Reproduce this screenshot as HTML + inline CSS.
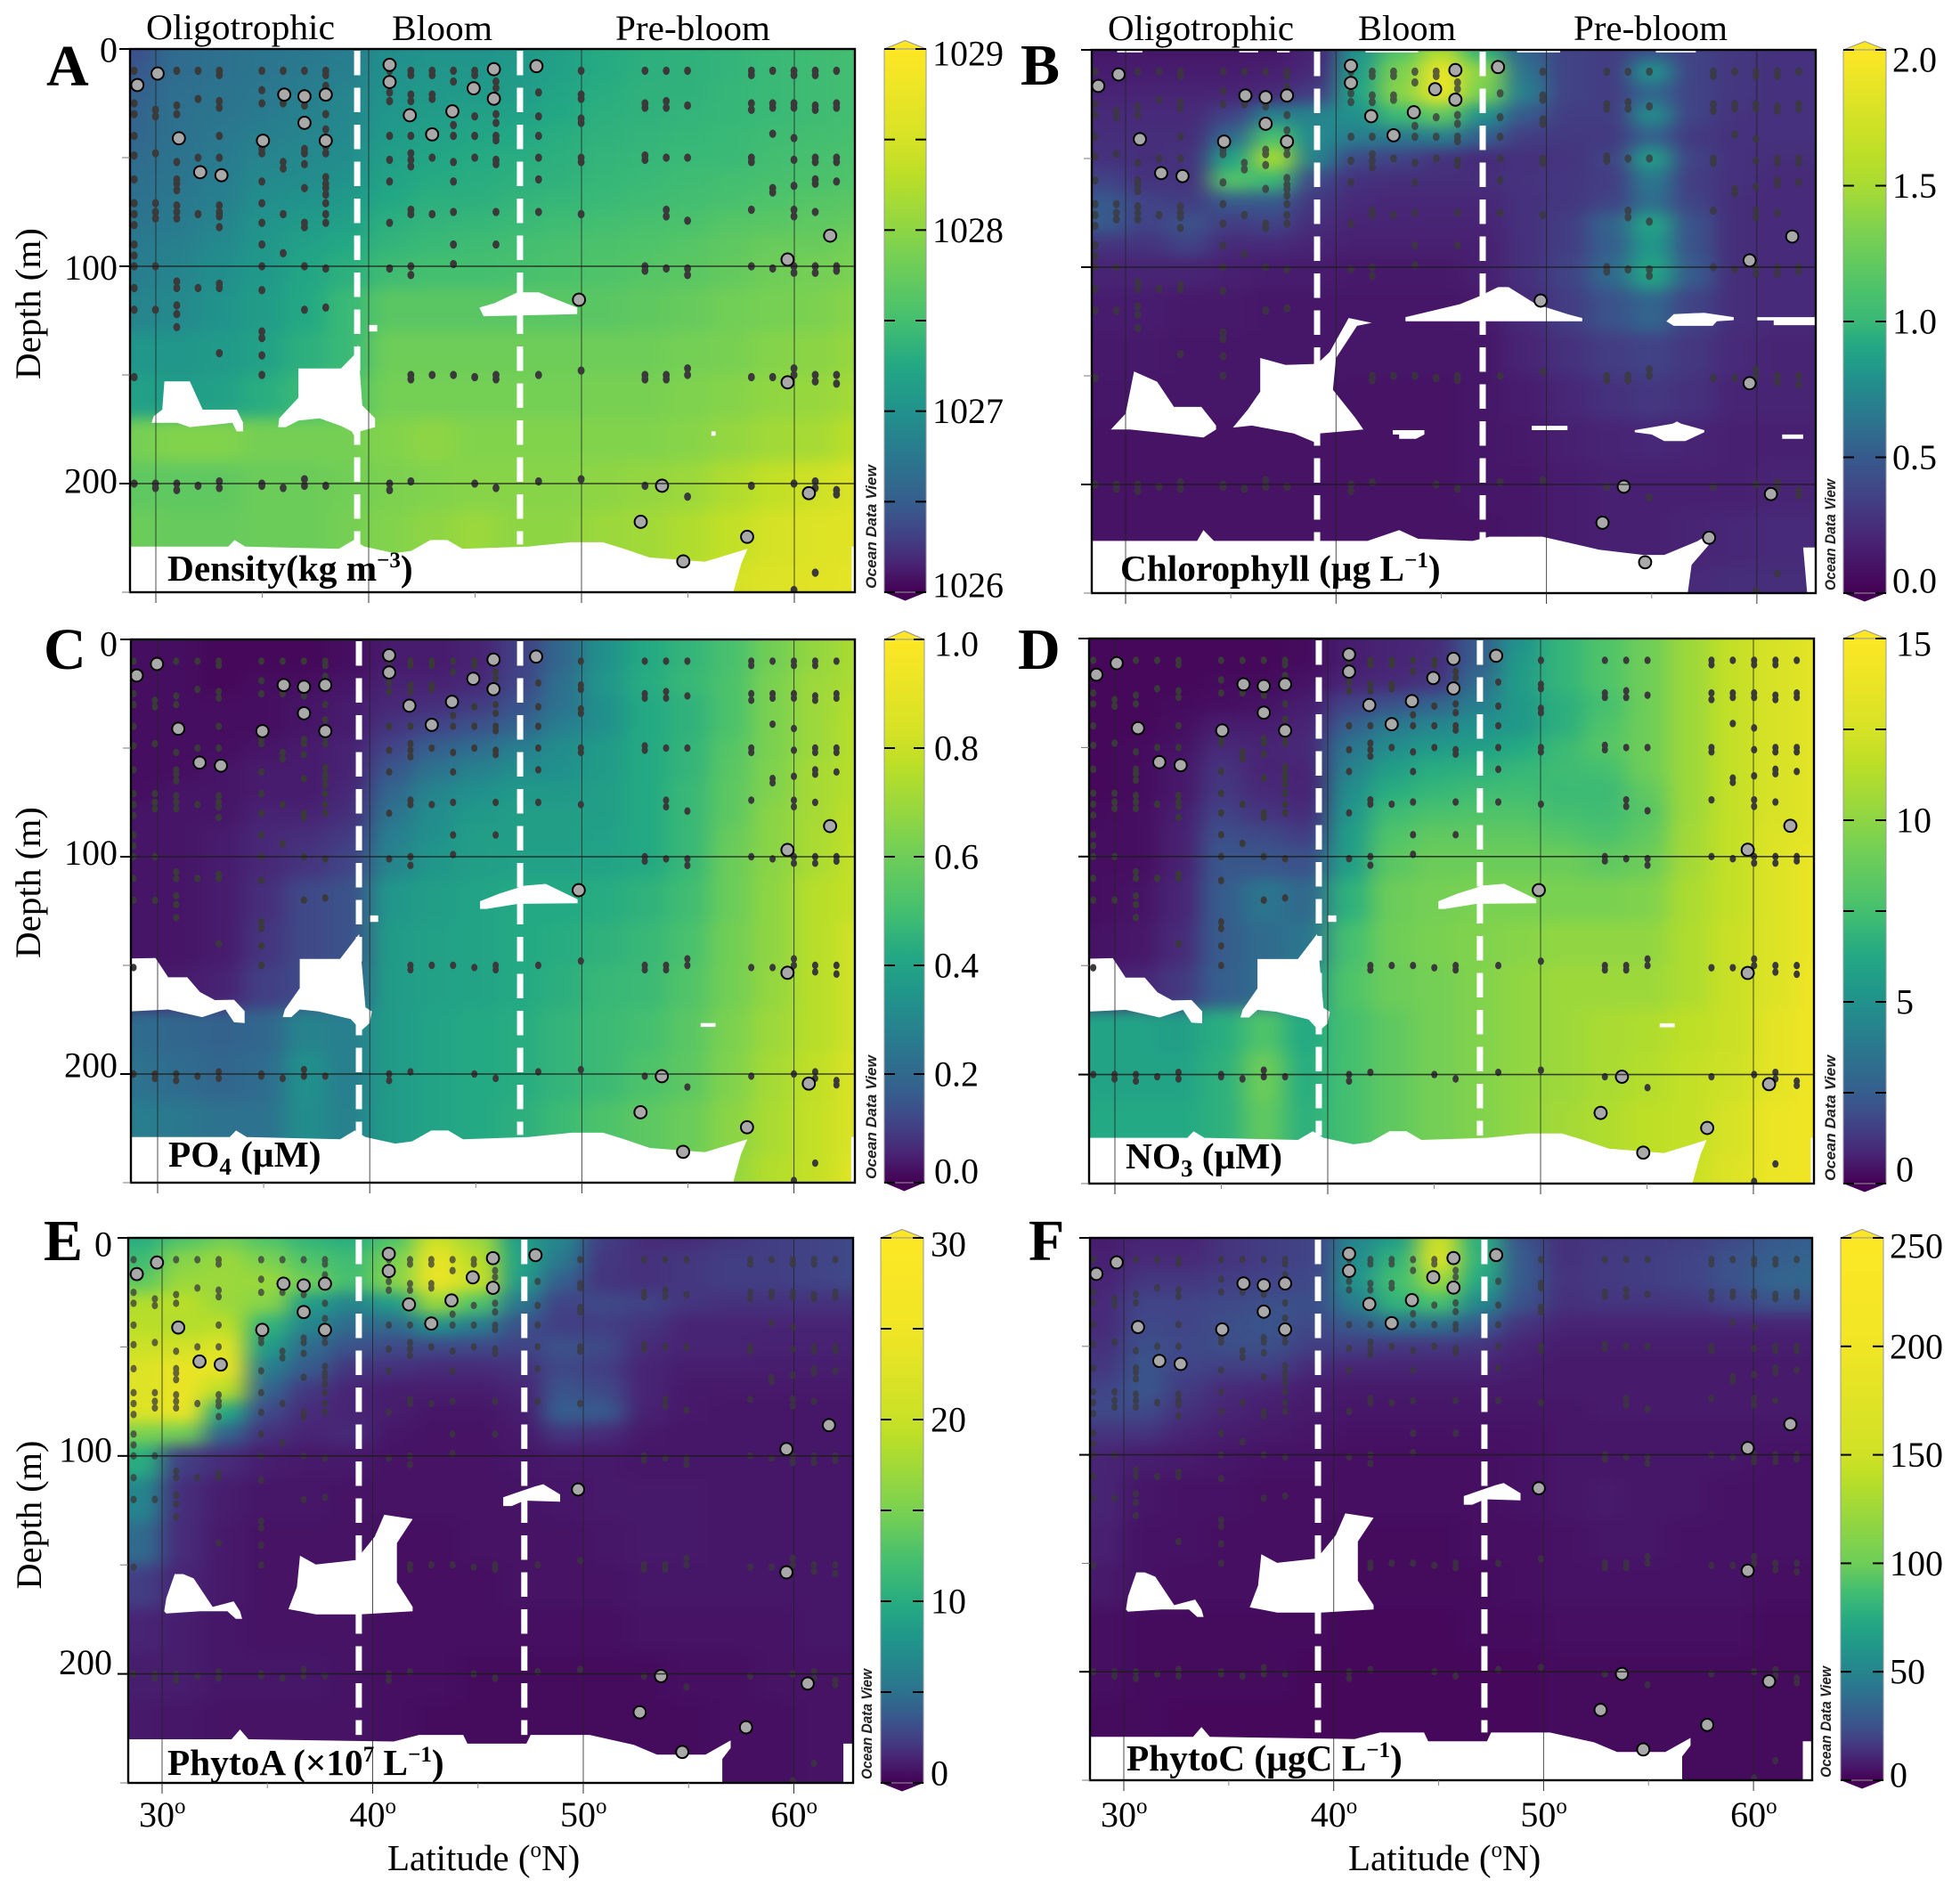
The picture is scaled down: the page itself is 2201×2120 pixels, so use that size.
<!DOCTYPE html>
<html lang="en">
<head>
<meta charset="utf-8">
<title>Ocean transect sections</title>
<style>
html,body{margin:0;padding:0;background:#fff;}
svg{display:block;}
text{font-family:"Liberation Serif",serif;fill:#000;}
.tl{font-size:40px;}
.axt{font-size:41px;}
.ttl{font-size:41.3px;font-weight:bold;}
.ltr{font-size:66px;font-weight:bold;}
.odv{font-family:"Liberation Sans",sans-serif;font-size:17px;font-weight:bold;font-style:italic;fill:#222;}
</style>
</head>
<body>
<svg id="chart" xmlns="http://www.w3.org/2000/svg" width="2201" height="2120" viewBox="0 0 2201 2120">
<defs>
<filter id="smooth" filterUnits="userSpaceOnUse" x="0" y="0" width="2201" height="2120" color-interpolation-filters="sRGB"><feGaussianBlur stdDeviation="13 8"/></filter>
</defs>

<g id="panel-a"></g>
<g id="panel-b"></g>
<g id="panel-c"></g>
<g id="panel-d"></g>
<g id="panel-e"></g>
<g id="panel-f"></g>

<text class="ltr" x="52" y="96">A</text>
<text class="ltr" x="1146" y="95">B</text>
<text class="ltr" x="49" y="751">C</text>
<text class="ltr" x="1143" y="751">D</text>
<text class="ltr" x="49" y="1415">E</text>
<text class="ltr" x="1155" y="1415">F</text>

<text class="tl" x="164" y="44" textLength="212" lengthAdjust="spacingAndGlyphs">Oligotrophic</text>
<text class="tl" x="440" y="45" textLength="113" lengthAdjust="spacingAndGlyphs">Bloom</text>
<text class="tl" x="691" y="45" textLength="174" lengthAdjust="spacingAndGlyphs">Pre-bloom</text>
<text class="tl" x="1244" y="45" textLength="209" lengthAdjust="spacingAndGlyphs">Oligotrophic</text>
<text class="tl" x="1525" y="45" textLength="110" lengthAdjust="spacingAndGlyphs">Bloom</text>
<text class="tl" x="1767" y="45" textLength="173" lengthAdjust="spacingAndGlyphs">Pre-bloom</text>

<text class="tl" transform="translate(45,341) rotate(-90)" text-anchor="middle" textLength="170" lengthAdjust="spacingAndGlyphs">Depth (m)</text>
<text class="tl" transform="translate(45,991) rotate(-90)" text-anchor="middle" textLength="170" lengthAdjust="spacingAndGlyphs">Depth (m)</text>
<text class="tl" transform="translate(46,1701) rotate(-90)" text-anchor="middle" textLength="167" lengthAdjust="spacingAndGlyphs">Depth (m)</text>

<text class="axt" x="435" y="2100">Latitude (<tspan font-size="25" dy="-15">o</tspan><tspan dy="15">N)</tspan></text>
<text class="axt" x="1514" y="2100">Latitude (<tspan font-size="25" dy="-15">o</tspan><tspan dy="15">N)</tspan></text>

<text class="ttl" x="188" y="652">Density(kg m<tspan font-size="25" dy="-15">−3</tspan><tspan dy="15">)</tspan></text>
<text class="ttl" x="1258" y="652">Chlorophyll (µg L<tspan font-size="25" dy="-15">−1</tspan><tspan dy="15">)</tspan></text>
<text class="ttl" x="189" y="1310">PO<tspan font-size="27" dy="9">4</tspan><tspan dy="-9"> (µM)</tspan></text>
<text class="ttl" x="1264" y="1312">NO<tspan font-size="27" dy="9">3</tspan><tspan dy="-9"> (µM)</tspan></text>
<text class="ttl" x="188" y="1993">PhytoA (×10<tspan font-size="25" dy="-15">7</tspan><tspan dy="15"> L</tspan><tspan font-size="25" dy="-15">−1</tspan><tspan dy="15">)</tspan></text>
<text class="ttl" x="1265" y="1988">PhytoC (µgC L<tspan font-size="25" dy="-15">−1</tspan><tspan dy="15">)</tspan></text>

<text class="odv" transform="translate(984,661) rotate(-90)" textLength="139" lengthAdjust="spacingAndGlyphs">Ocean Data View</text>
<text class="odv" transform="translate(2061,663) rotate(-90)" textLength="125" lengthAdjust="spacingAndGlyphs">Ocean Data View</text>
<text class="odv" transform="translate(984,1324) rotate(-90)" textLength="139" lengthAdjust="spacingAndGlyphs">Ocean Data View</text>
<text class="odv" transform="translate(2061,1326) rotate(-90)" textLength="141" lengthAdjust="spacingAndGlyphs">Ocean Data View</text>
<text class="odv" transform="translate(979,1998) rotate(-90)" textLength="124" lengthAdjust="spacingAndGlyphs">Ocean Data View</text>
<text class="odv" transform="translate(2056,1996) rotate(-90)" textLength="125" lengthAdjust="spacingAndGlyphs">Ocean Data View</text>
</svg>

<script>
// Grid of the sections
const gridLats = [29,31,33,35,37,39,41,43,45,47,49,51,53,55,57,59,61,63];
const gridDepths = [0,10,20,30,40,50,60,70,80,90,100,120,140,160,180,200,225,250];

// Density above 1026 kg m-3
const densityAnomaly = [
[.40,.63,.68,.72,.75,.80,.97,1.02,1.02,1.07,1.17,1.27,1.33,1.35,1.38,1.43,1.46,1.49],
[.46,.63,.68,.72,.77,.82,1.0,1.05,1.05,1.10,1.17,1.27,1.33,1.35,1.38,1.43,1.46,1.49],
[.52,.66,.70,.75,.80,.87,1.02,1.07,1.10,1.12,1.22,1.30,1.35,1.35,1.40,1.43,1.46,1.49],
[.55,.68,.72,.77,.85,.90,1.05,1.12,1.17,1.17,1.25,1.33,1.35,1.38,1.40,1.43,1.46,1.49],
[.58,.68,.75,.82,.87,.92,1.10,1.17,1.22,1.25,1.30,1.35,1.38,1.40,1.43,1.46,1.49,1.52],
[.63,.70,.77,.87,.92,.97,1.15,1.22,1.27,1.30,1.33,1.38,1.40,1.43,1.43,1.49,1.52,1.55],
[.66,.72,.80,.92,.95,1.02,1.20,1.27,1.30,1.33,1.35,1.40,1.43,1.46,1.49,1.52,1.55,1.58],
[.68,.75,.82,.97,1.02,1.10,1.25,1.33,1.33,1.38,1.40,1.43,1.46,1.49,1.52,1.58,1.62,1.65],
[.72,.77,.87,1.02,1.10,1.17,1.33,1.38,1.40,1.43,1.46,1.49,1.52,1.55,1.62,1.65,1.69,1.72],
[.77,.82,.92,1.05,1.17,1.25,1.38,1.43,1.46,1.49,1.52,1.55,1.58,1.62,1.69,1.76,1.76,1.84],
[.80,.87,.97,1.07,1.22,1.33,1.46,1.50,1.50,1.52,1.55,1.58,1.62,1.66,1.72,1.80,1.84,1.88],
[.87,.92,1.02,1.12,1.25,1.43,1.66,1.66,1.66,1.66,1.66,1.66,1.70,1.74,1.82,1.86,1.89,1.97],
[1.05,1.05,1.10,1.17,1.33,1.43,1.80,1.80,1.80,1.80,1.80,1.80,1.80,1.84,1.87,1.95,1.98,2.06],
[1.17,1.12,1.17,1.30,1.43,1.58,1.84,1.84,1.84,1.84,1.84,1.87,1.87,1.91,1.95,2.02,2.06,2.15],
[1.85,1.93,1.93,1.85,1.85,1.85,1.93,2.0,1.93,1.93,1.93,1.93,1.93,1.96,2.04,2.13,2.17,2.31],
[1.70,1.70,1.70,1.78,1.78,1.82,1.89,1.93,1.96,1.96,1.96,2.0,2.04,2.09,2.22,2.35,2.44,2.54],
[1.78,1.74,1.74,1.78,1.78,1.85,1.93,2.0,2.09,2.0,2.0,2.09,2.13,2.22,2.35,2.49,2.58,2.63],
[1.85,1.82,1.82,1.85,1.85,1.93,2.0,2.09,2.09,2.09,2.09,2.13,2.22,2.31,2.49,2.58,2.63,2.68]];

const chlorophyll = [
[.12,.12,.12,.12,.12,.19,.79,1.12,1.5,.95,.53,.36,.33,.45,.36,.3,.27,.27],
[.15,.15,.15,.15,.17,.23,.85,1.33,1.88,1.38,.63,.36,.33,.79,.36,.3,.27,.27],
[.19,.19,.19,.19,.23,.33,.89,1.38,1.88,1.3,.69,.36,.33,.56,.36,.3,.27,.27],
[.23,.23,.23,.36,.7,.72,.79,1.02,1.2,.79,.5,.33,.33,.76,.36,.28,.27,.27],
[.25,.25,.25,.58,1.1,.75,.69,.66,.69,.53,.33,.31,.31,.53,.31,.27,.27,.27],
[.27,.25,.28,.88,1.5,.7,.4,.36,.28,.23,.27,.28,.36,.85,.36,.27,.25,.25],
[.36,.28,.28,1.15,1.0,.4,.27,.25,.25,.25,.28,.3,.33,.66,.33,.27,.23,.23],
[.5,.36,.33,.5,.5,.3,.23,.21,.21,.21,.27,.3,.36,.6,.36,.25,.23,.23],
[.5,.36,.45,.33,.36,.25,.19,.19,.19,.19,.27,.33,.55,.89,.45,.25,.23,.23],
[.28,.28,.36,.23,.23,.19,.17,.17,.17,.17,.27,.33,.52,.82,.45,.25,.23,.23],
[.19,.19,.19,.17,.15,.15,.13,.13,.13,.17,.27,.36,.58,.89,.5,.25,.23,.23],
[.15,.15,.13,.13,.12,.12,.12,.12,.12,.13,.23,.33,.45,.56,.36,.25,.23,.23],
[.13,.13,.12,.12,.12,.12,.12,.12,.12,.12,.19,.27,.33,.36,.3,.23,.19,.19],
[.12,.12,.12,.12,.12,.12,.1,.1,.1,.12,.15,.21,.27,.3,.27,.19,.19,.19],
[.1,.1,.1,.1,.1,.1,.1,.1,.1,.12,.13,.17,.19,.21,.19,.17,.17,.17],
[.1,.1,.1,.1,.1,.1,.1,.1,.1,.12,.12,.15,.17,.17,.17,.17,.19,.19],
[.1,.1,.1,.1,.1,.1,.1,.1,.1,.1,.12,.15,.17,.17,.19,.21,.23,.23],
[.1,.1,.1,.1,.1,.1,.1,.1,.1,.1,.12,.15,.17,.17,.23,.25,.25,.25]];

const phosphate = [
[.02,.02,.01,.01,.01,.02,.04,.04,.05,.10,.19,.33,.42,.46,.51,.61,.68,.73],
[.02,.02,.01,.01,.01,.02,.04,.04,.05,.10,.19,.33,.42,.46,.51,.61,.68,.73],
[.02,.02,.01,.02,.02,.03,.05,.05,.06,.11,.22,.35,.43,.47,.52,.63,.70,.73],
[.02,.02,.02,.02,.03,.04,.06,.07,.09,.14,.23,.33,.42,.45,.52,.63,.70,.75],
[.02,.02,.02,.02,.03,.04,.08,.11,.14,.18,.27,.33,.42,.45,.52,.63,.70,.76],
[.02,.02,.02,.03,.04,.05,.11,.17,.21,.27,.32,.37,.42,.46,.54,.63,.70,.76],
[.02,.02,.03,.04,.04,.05,.15,.23,.28,.32,.33,.37,.42,.46,.55,.64,.72,.76],
[.02,.03,.03,.04,.04,.06,.19,.29,.33,.36,.36,.38,.42,.47,.56,.64,.72,.76],
[.03,.03,.03,.05,.05,.07,.23,.32,.36,.38,.38,.38,.42,.47,.56,.66,.72,.78],
[.03,.03,.04,.06,.07,.09,.27,.33,.38,.38,.38,.39,.42,.47,.58,.66,.73,.78],
[.03,.03,.04,.06,.08,.11,.29,.35,.38,.39,.39,.40,.42,.47,.59,.66,.73,.79],
[.03,.03,.04,.07,.12,.14,.35,.38,.40,.42,.42,.43,.45,.49,.59,.67,.76,.79],
[.03,.03,.04,.08,.12,.14,.37,.39,.40,.42,.43,.45,.47,.51,.61,.67,.76,.82],
[.03,.04,.05,.10,.12,.17,.37,.39,.40,.42,.44,.47,.48,.53,.61,.68,.76,.82],
[.21,.19,.18,.19,.29,.27,.37,.40,.42,.43,.46,.48,.50,.55,.63,.70,.76,.82],
[.23,.21,.19,.21,.33,.27,.37,.40,.42,.43,.46,.48,.52,.56,.64,.72,.78,.85],
[.27,.25,.23,.23,.32,.28,.37,.40,.42,.44,.48,.52,.56,.59,.66,.73,.79,.85],
[.27,.27,.25,.25,.32,.30,.39,.40,.43,.45,.50,.55,.58,.61,.68,.75,.79,.88]];

const nitrate = [
[.15,.15,.15,.15,.15,.24,.65,.8,.95,2.4,5,6.9,7.9,9,10.5,11.8,12.5,13.3],
[.15,.15,.15,.15,.15,.24,.65,.8,1.0,2.4,5.4,6.9,7.9,9,10.5,11.8,12.5,13.3],
[.15,.15,.15,.24,.24,.4,.8,.95,1.2,3.1,5.6,6.9,7.9,9,10.5,11.8,12.5,13.3],
[.15,.15,.24,.3,.4,.65,1.6,2.1,2.7,4,5.4,6.6,7.5,9,10.5,11.8,12.5,13.3],
[.15,.15,.3,.65,.65,.8,2.5,3.8,4.4,5,5.4,6.6,7.9,9,10.5,11.8,12.5,13.3],
[.15,.24,.4,.95,.8,.95,3.6,4.8,5.5,5.7,6.3,7.2,8.1,9,10.5,11.8,12.5,13.3],
[.15,.24,.5,1.2,.8,.8,4.2,5.7,6.5,6.7,7,7.3,7.5,9,10.5,11.8,12.5,13.3],
[.15,.24,.5,1.3,.95,.8,4.8,6.5,7,7.3,7.4,7.2,7.2,8.5,10.5,11.8,12.5,13.3],
[.24,.3,.65,1.6,1.2,1.0,5.2,7.3,7.7,7.9,7.9,7.5,7.4,8.1,10.5,11.8,12.5,13.3],
[.3,.3,.7,2,1.8,1.45,5.6,7.9,8.5,8.5,8.5,8.1,7.7,8.5,10.7,11.8,12.9,13.3],
[.3,.3,.7,2.2,2.2,2.1,5.7,8.3,8.9,8.9,8.9,8.9,8.5,8.9,10.7,11.8,12.9,13.8],
[.3,.4,.8,2.4,3.6,3,6.7,8.9,9.2,9.4,9.4,9.4,9.4,9.6,11,11.8,12.9,13.8],
[.4,.5,.95,2.4,3.1,3.6,7.5,9,9.4,9.6,9.8,10.1,10.1,10.1,11.1,12,12.9,13.8],
[.65,.8,1.3,2.5,3.1,5,7.9,8.9,9.2,9.6,10.1,10.5,10.5,10.5,11.1,12,12.9,14.2],
[6,6,5.7,6.5,7.9,6.3,7.5,8.5,9.2,9.6,10.1,10.5,10.9,11.1,11.6,12,13.3,14.2],
[6,6,6,6.7,8.9,6.5,7.5,8.5,9.2,9.6,10.1,10.5,10.9,11.3,11.8,12.2,13.3,14.2],
[6.3,6.3,6.3,6.7,8.5,6.7,7.5,8.5,9.2,9.6,10.1,10.7,11.1,11.6,11.8,12.5,13.8,14.2],
[6.3,6.3,6.3,6.7,8.5,6.7,7.9,8.5,9.2,9.6,10.1,10.9,11.3,11.6,12,12.9,13.8,14.2]];

const phytoA = [
[10,12.8,14.4,12.8,10.8,10,12.8,20,17,8.5,6.5,2.4,1.6,1.6,2,2.4,2.6,2.9],
[11.7,15.8,17,15,12.8,11.7,15,24,19,9.2,5.4,2.1,1.85,2.1,2.4,2.4,2.6,2.9],
[13.6,17,17,17,14.4,12.2,15.8,24,20,8.5,3.95,2,1.85,2.1,2.4,2.4,2.6,2.9],
[18.5,19,17,15.8,8.5,6.5,8.5,17,12.8,5.4,2.6,2.9,2.6,2,1.85,1.85,1.85,1.85],
[19,18.5,19,10.8,6.5,4.6,4.6,7.5,5.8,3.3,2.4,2.4,2,1.3,1.3,1.3,1.3,1.3],
[20,21,22.5,8.5,4.6,3.3,2.9,2.9,2.9,2.6,3.3,2.9,1.6,1.3,1.3,1.2,1.2,1.2],
[22.5,24,24,5.8,3.7,2,1.85,1.6,1.6,1.85,2.9,2.4,1.3,1.05,1.05,1.05,1.05,1.05],
[22.5,24,19,4.2,2.1,1.3,1.05,1.05,1.05,1.3,3.4,2.9,1.3,.92,.92,.92,.92,.92],
[22.5,24,9.6,2.9,1.6,1.3,1.05,.8,.8,1.05,3.95,3.7,1.2,.92,.8,.8,.8,.8],
[15,14.4,4.2,1.85,1.3,1.6,.8,.66,.66,.92,2,1.6,.92,.8,.8,.8,.8,.8],
[10,2.4,1.6,1.05,.92,.92,.66,.66,.66,.8,.92,.92,.8,.8,.8,.8,.8,.8],
[6.5,1.7,1.05,.8,.8,.66,.66,.66,.66,.66,.8,.92,.92,.92,.8,.8,.8,.8],
[4.6,1.6,.92,.66,.66,.66,.53,.53,.66,.66,.66,.8,.92,.92,.8,.8,.8,.8],
[2.4,1.3,.92,.66,.66,.66,.53,.53,.53,.66,.66,.66,.8,.8,.8,.8,.8,.8],
[1.3,1.05,.8,.66,.66,.66,.53,.53,.53,.53,.53,.53,.66,.66,.66,.66,.8,.8],
[1.05,1.05,.8,.8,.8,.66,.53,.53,.4,.4,.4,.4,.4,.53,.53,.66,.66,.66],
[.92,.8,.66,.66,.66,.66,.53,.4,.4,.4,.4,.4,.4,.4,.53,.53,.66,.66],
[.92,.8,.66,.66,.66,.66,.53,.4,.4,.4,.4,.4,.4,.4,.53,.53,.66,.66]];

const phytoC = [
[8,10,10,15,18,20,50,65,146,76,25,14,16,17,18,22,29,31],
[9,12,12,15,18,20,55,80,165,79,29,14,17,18,20,25,31,34],
[10,16,16,18,20,22,58,88,123,73,29,15,17,18,20,25,34,35],
[12,20,20,22,24,24,46,80,88,52,25,14,15,15,16,20,25,25],
[12,22,20,24,26,22,29,39,39,29,15,10,10,10,10,10,10,10],
[14,24,22,24,24,18,18,16,16,15,10,8,8,8,8,8,8,8],
[16,26,20,18,18,12,10,10,10,10,8,7,7,7,7,7,7,7],
[20,27,17,12,10,8,7,7,7,7,7,7,7,7,7,7,7,7],
[22,22,14,10,8,7,6,6,6,6,6,6,7,7,7,7,7,7],
[15,15,10,8,7,6,5,5,5,5,5,6,6,6,6,6,6,6],
[10,8,7,6,5,5,4,4,4,4,5,6,6,6,6,6,5,5],
[10,6,5,5,4,4,4,4,4,4,5,6,7,6,6,5,5,5],
[9,5,5,4,4,4,3,3,3,4,4,5,6,6,5,5,5,5],
[7,5,4,4,4,3,3,3,3,3,4,5,5,5,5,5,4,4],
[4,3,3,3,3,3,2,2,2,3,3,4,4,4,4,4,3,3],
[4,3,3,3,3,2,2,2,2,2,2,3,3,3,3,3,3,3],
[3,3,2,2,2,2,2,2,2,2,2,3,3,3,3,3,3,3],
[3,3,2,2,2,2,2,2,2,2,2,3,3,3,3,3,3,3]];

// Sampling stations (small dots)
const stationLats = [29,30,31,32,33,35,36,37,38,41,42,43,44,45,46,48,50,53,54,55,58,59,60,61,62];
const stationDepths = [
[10,17,25,30,40,49,60,71,76,81,90,95,100,110,120,151,200],
[28,31,48,71,75,78,100,120,200,202],
[10,26,30,52,60,62,65,72,75,78,107,110,118,122,128,200,203],
[10,23,50,76,110,201],
[10,12,24,27,40,50,72,75,77,82,108,110,140,199,202],
[10,19,25,42,46,48,61,71,80,90,100,111,130,133,141,150,200,201],
[10,25,52,55,76,94,202],
[10,26,46,48,53,64,80,82,100,120,198,201],
[10,12,17,30,37,45,48,59,62,64,67,71,76,80,101,119,201],
[10,20,24,40,51,61,80,101,200,203],
[10,12,21,24,40,48,51,54,74,76,100,104,150,152,199],
[10,12,21,23,40,50,76,150],
[10,15,35,40,52,61,75,90,99,150],
[10,12,31,40,50,151,200],
[15,18,30,34,40,42,51,53,75,90,150,152,202],
[20,31,40,50,60,75,150,199],
[10,21,23,32,34,50,52,76,148,198],
[10,25,27,49,51,100,102,150,152,201],
[10,24,27,50,74,77,101,150,152],
[10,26,50,79,101,104,147,150,206],
[10,12,25,28,50,52,74,100,151,201],
[10,25,27,39,64,66,101,151],
[10,12,25,27,41,51,63,74,77,100,103,147,150,200,249],
[10,12,26,28,50,52,60,62,75,100,103,150,153,199,202,241],
[10,25,27,50,52,61,100,102,150,154,203,205]];

// Highlighted samples (grey circles)
const highlightLats = [29.15,30.1,31.1,32.1,33.1,35.05,36.05,37,38,37,38,41,41,41.95,43,43.95,44.95,45.9,45.9,47.9,49.9,59.7,61.7,59.7,53.8,52.8,54.8,57.8,60.7];
const highlightDepths = [16.6,11.3,41.1,56.7,58.1,42.2,21,21.8,21,34,42.2,7.3,15.2,30.5,39.3,28.7,18.1,9.3,22.9,7.9,115.4,96.9,85.9,153.4,201,217.6,235.8,224.5,204.4];

// Axis ticks
const depthTicks = [0,50,100,150,200,250];
const depthTickLabels = ['0','100','200'];
const depthLabelValues = [0,100,200];
const latTicks = [30,35,40,45,50,55,60];
const latLabelValues = [30,40,50,60];

// Colour bar ticks and labels
const densityTicks = [0,.5,1,1.5,2,2.5,3];
const densityBarValues = [0,1,2,3];
const densityBarLabels = ['1026','1027','1028','1029'];
const chlTicks = [0,.5,1,1.5,2];
const chlBarValues = [0,.5,1,1.5,2];
const chlBarLabels = ['0.0','0.5','1.0','1.5','2.0'];
const po4Ticks = [0,.2,.4,.6,.8,1];
const po4BarValues = [0,.2,.4,.6,.8,1];
const po4BarLabels = ['0.0','0.2','0.4','0.6','0.8','1.0'];
const no3Ticks = [0,2.5,5,7.5,10,12.5,15];
const no3BarValues = [0,5,10,15];
const no3BarLabels = ['0','5','10','15'];
const phytoATicks = [0,5,10,15,20,25,30];
const phytoABarValues = [0,10,20,30];
const phytoABarLabels = ['0','10','20','30'];
const phytoCTicks = [0,50,100,150,200,250];
const phytoCBarValues = [0,50,100,150,200,250];
const phytoCBarLabels = ['0','50','100','150','200','250'];

// No-data outlines, in latitude and depth
const floorA = [[28,229],[33.4,229],[33.7,226],[34.2,229],[38.6,230],[39.3,226],[39.8,229],[41.2,232],[42,231],[42.9,226],[43.7,226],[44.4,230],[47.5,229],[49.5,227],[51,227],[52,230],[53.2,234],[55.8,236],[57.8,230],[57.5,237],[57.1,251],[28,251]];
const stripA = [[62.7,229],[64,229],[64,251],[62.7,251]];
const capA = [[45.2,119],[45.4,123],[49.8,122],[49.8,119],[48.5,114],[48,112],[47,112],[45.9,117]];
const notchA = [[40,127],[40.4,127],[40.4,130],[40,130]];
const blobA1 = [[29.8,172],[29.9,169],[30.3,166],[30.4,153],[31.6,153],[32.2,166],[33.8,166],[34.1,172],[34.1,176],[33.8,176],[33.6,172],[31.6,174],[31,172]];
const blobA2 = [[35.75,174],[35.8,170],[36.7,160.5],[36.7,147],[38.7,147],[39.4,140],[39.5,136],[39.7,164],[40.3,170],[40.3,174],[39.6,176],[39.5,181],[39.2,176],[38.7,173.5],[37.7,170],[36.7,171],[36.1,174]];
const speckA = [[56.1,176],[56.3,176],[56.3,178],[56.1,178]];

const blobC1 = [[28,147],[29.9,146.6],[30.5,155.5],[31.4,155.5],[32,162.3],[32.7,166],[33.6,165.8],[34.1,171],[34.1,176.5],[33.6,176.2],[33.2,170.3],[32.1,173.8],[30.5,170.3],[28,171.5]];
const blobC2 = [[35.9,173.8],[36,170.3],[36.7,160.5],[36.7,147],[38.6,147],[39.5,135.6],[39.8,169.4],[40.1,171.2],[40,176.5],[39.6,180],[39.1,174.7],[37.6,171.2],[36.7,170.3],[36.3,173.8]];
const capC = [[45.2,120.5],[46.1,117],[47.3,113.3],[48.3,112.5],[49.8,119.6],[49.8,121.4],[47,121.7],[45.5,124],[45.2,124]];
const speckC = [[55.6,176.5],[56.3,176.5],[56.3,178.3],[55.6,178.3]];

const floorB = [[28,226],[33.4,226],[33.7,221],[34.2,226],[41.5,226],[43,221],[43.9,225],[46.5,226],[47.3,224],[49.8,224],[52.5,230],[54.6,232.4],[55.6,232.4],[57.2,226],[57.7,223],[57.7,228],[56.9,237],[56.7,251],[28,251]];
const stripB = [[62.2,229],[64,229],[64,251],[62.4,251]];
const blobB1 = [[29.3,174.7],[30,167.4],[30.4,148],[31.5,152.7],[32.3,164.3],[33.6,164.3],[34.3,172.9],[34.3,174.7],[33.7,178.4],[32,176.5],[30.2,174.7]];
const blobB2 = [[35.1,173.8],[35.8,165.6],[36.4,157.3],[36.4,141.8],[37.6,145],[39.1,144.5],[39.7,139],[40.6,123.4],[41.7,125.6],[41,127],[40,141.8],[39.85,156.4],[40.9,169.2],[41.3,174.7],[39.2,176.5],[39,180.6],[38,176.5],[37,174.7],[36,172.9]];
const capB = [[43.3,124.9],[43.3,123],[43.9,121.6],[45.9,117],[46.8,113.4],[47.7,109.2],[48.2,109.2],[49.5,117],[51,121.6],[51.7,123.4],[51.7,124.9]];
const capB2 = [[55.7,124.9],[56.05,121.6],[57.5,121],[58.9,123],[58.9,124.4],[58.1,124.9],[57.9,127],[56.05,127]];
const capB3 = [[60,123],[64,123],[64,126.7],[60.8,126.7],[60.8,124.5],[60,124.5]];
const lensB1 = [[42.7,175],[44.2,175],[44.2,177],[43.8,179],[43,179],[43,177],[42.7,177]];
const lensB2 = [[49.3,173],[51,173],[51,175],[49.3,175]];
const lensB3 = [[54.2,175],[56,172],[56.2,171],[56.4,172],[57.5,175],[57.5,176],[56.6,180],[55.6,180],[55,177],[54.2,176]];
const lensB4 = [[61.2,177],[62.2,177],[62.2,179],[61.2,179]];
const topB1 = [[29.6,0],[30.8,0],[30.8,1.2],[29.6,1.2]];
const topB2 = [[35.4,0],[36.3,0],[36.3,1.2],[35.4,1.2]];
const topB3 = [[37.2,0],[37.8,0],[37.8,1.2],[37.2,1.2]];
const topB4 = [[41.4,0],[43.9,0],[43.9,1.2],[41.4,1.2]];
const topB5 = [[48.6,0],[50.65,0],[50.65,1.2],[48.6,1.2]];
const topB6 = [[55.2,0],[57.1,0],[57.1,1.2],[55.2,1.2]];

const floorE = [[28,230],[33.3,230],[33.7,225.5],[34.1,230],[41,231],[42.2,228],[44.3,228],[44.5,232],[47.3,232],[47.5,228],[50.3,228],[52.4,232.5],[53.5,237],[55.8,237],[57,230.5],[57,234],[56.6,239],[56.6,251],[28,251]];
const stripE = [[62.35,232],[64,232],[64,251],[62.35,251]];
const blobE1 = [[30.1,171.3],[30.2,165.3],[30.6,154.2],[31,154.2],[31.5,156.2],[32.4,169.3],[33.4,166.7],[33.7,171.3],[33.8,174.7],[33.5,174.7],[33.1,171.3],[31.8,171.3],[30.2,172.3]];
const blobE2 = [[36,170.3],[36.4,160.2],[36.55,145.8],[37.3,149.8],[39.2,147.8],[40.1,137],[40.55,127],[41.9,129],[41.15,140],[41.15,158],[41.9,169.3],[41.9,171.3],[39.4,172.7],[37.3,172.7],[36.55,171.3]];
const capE = [[46.2,119],[46.8,117],[47.7,114],[48.1,113],[48.9,117.7],[48.9,121],[47.2,120.5],[46.6,123],[46.2,123]];

const densityGaps = [floorA,stripA,capA,notchA,blobA1,blobA2,speckA];
const chlGaps = [floorB,stripB,blobB1,blobB2,capB,capB2,capB3,lensB1,lensB2,lensB3,lensB4,topB1,topB2,topB3,topB4,topB5,topB6];
const po4Gaps = [floorA,stripA,blobC1,blobC2,capC,notchA,speckC];
const no3Gaps = [floorA,stripA,blobC1,blobC2,capC,notchA,speckC];
const phytoGaps = [floorE,stripE,blobE1,blobE2,capE];

// Non-linear colour scale of each bar: [position on the bar, position on viridis]
const scaleMid = [[0,0],[.08,.15],[.167,.3],[.333,.5],[.5,.7],[.667,.83],[.833,.94],[1,1]];
const scaleChl = [[0,0],[.125,.13],[.25,.28],[.375,.47],[.5,.67],[.75,.87],[1,1]];
const scalePhytoA = [[0,0],[.167,.38],[.333,.62],[.5,.8],[.667,.92],[.833,.98],[1,1]];
const scalePhytoC = [[0,0],[.1,.25],[.2,.45],[.4,.78],[.6,.93],[.8,.98],[1,1]];

// Panel layout
const panels = [
{id:'a',name:'density',values:densityAnomaly,vmin:0,vmax:3,scale:scaleMid,gaps:densityGaps,ticks:densityTicks,barValues:densityBarValues,barLabels:densityBarLabels,
 left:146,right:960,top:55,bottom:665,gx30:175,gk:23.9,mx30:174.6,mk:23.9,dk:2.44,divide:[39.46,47.11],
 barL:993,barR:1040,barTop:55,barBot:665,insetT:5,insetB:8,barLabelX:1047,dotOp:1,dotR:3.9,axisY:[132,[1,1.5,-3]],axisX:false},
{id:'b',name:'chlorophyll',values:chlorophyll,vmin:0,vmax:2,scale:scaleChl,gaps:chlGaps,ticks:chlTicks,barValues:chlBarValues,barLabels:chlBarLabels,
 left:1226,right:2039,top:56,bottom:666,gx30:1264,gk:23.63,mx30:1253.7,mk:23.94,dk:2.44,divide:[39.1,46.97],
 barL:2070,barR:2118,barTop:56,barBot:666,insetT:11,insetB:14,barLabelX:2125,dotOp:.78,dotR:3.9,axisY:null,axisX:false},
{id:'c',name:'phosphate',values:phosphate,vmin:0,vmax:1,scale:scaleMid,gaps:po4Gaps,ticks:po4Ticks,barValues:po4BarValues,barLabels:po4BarLabels,
 left:147,right:960,top:718,bottom:1328,gx30:177,gk:23.82,mx30:173.9,mk:23.92,dk:2.44,divide:[39.49,47.09],
 barL:993,barR:1038,barTop:718,barBot:1328,insetT:5,insetB:13,barLabelX:1049,dotOp:1,dotR:3.5,axisY:[132,[5,-4.5,-10]],axisX:false},
{id:'d',name:'nitrate',values:nitrate,vmin:0,vmax:15,scale:scaleMid,gaps:no3Gaps,ticks:no3Ticks,barValues:no3BarValues,barLabels:no3BarLabels,
 left:1223,right:2037,top:717,bottom:1329,gx30:1252,gk:23.9,mx30:1251.6,mk:23.94,dk:2.448,divide:[39.58,47.15],
 barL:2070,barR:2118,barTop:717,barBot:1329,insetT:6,insetB:16,barLabelX:2129,dotOp:1,dotR:3.5,axisY:null,axisX:false},
{id:'e',name:'phytoa',values:phytoA,vmin:0,vmax:30,scale:scalePhytoA,gaps:phytoGaps,ticks:phytoATicks,barValues:phytoABarValues,barLabels:phytoABarLabels,
 left:144,right:958,top:1390,bottom:2002,gx30:182,gk:23.65,mx30:173.9,mk:23.88,dk:2.448,divide:[39.34,47.2],
 barL:989,barR:1037,barTop:1390,barBot:2002,insetT:7,insetB:11,barLabelX:1045,dotOp:.75,dotR:3.5,axisY:[126,[7,-7,-13]],axisX:true},
{id:'f',name:'phytoc',values:phytoC,vmin:0,vmax:250,scale:scalePhytoC,gaps:phytoGaps,ticks:phytoCTicks,barValues:phytoCBarValues,barLabels:phytoCBarLabels,
 left:1224,right:2035,top:1390,bottom:1999,gx30:1262,gk:23.57,mx30:1251.6,mk:23.94,dk:2.436,divide:[39.25,47.18],
 barL:2067,barR:2115,barTop:1390,barBot:1999,insetT:9,insetB:6,barLabelX:2122,dotOp:.75,dotR:3.5,axisY:null,axisX:true}
];

const viridisStops = [[68,1,84],[72,36,117],[65,68,135],[53,95,141],[42,120,142],[33,145,140],[34,168,132],[68,191,112],[122,209,81],[189,223,38],[253,231,37]];
function viridis(f){
  const t = Math.max(0,Math.min(1,f))*10;
  const i = Math.min(9,Math.floor(t));
  const u = t-i;
  const a = viridisStops[i];
  const b = viridisStops[i+1];
  return 'rgb('+Math.round(a[0]+(b[0]-a[0])*u)+','+Math.round(a[1]+(b[1]-a[1])*u)+','+Math.round(a[2]+(b[2]-a[2])*u)+')';
}
function barColor(scale,f){
  const x = Math.max(0,Math.min(1,f));
  for(let i=1;i<scale.length;i++){
    if(x<=scale[i][0]){
      const u = (x-scale[i-1][0])/(scale[i][0]-scale[i-1][0]);
      return viridis(scale[i-1][1]+(scale[i][1]-scale[i-1][1])*u);
    }
  }
  return viridis(1);
}
const NS = 'http://www.w3.org/2000/svg';
function svgEl(tag,attrs,parent){
  const n = document.createElementNS(NS,tag);
  for(const k in attrs){n.setAttribute(k,attrs[k]);}
  parent.appendChild(n);
  return n;
}

const rootDefs = document.querySelector('#chart defs');
panels.forEach(function(p){
  const host = document.getElementById('panel-'+p.id);
  const gridX = function(lat){return p.gx30+(lat-30)*p.gk;};
  const markX = function(lat){return p.mx30+(lat-30)*p.mk;};
  const depthY = function(d){return p.top+d*p.dk;};
  const barY = function(v){return p.barBot-(v-p.vmin)/(p.vmax-p.vmin)*(p.barBot-p.barTop);};

  const clip = svgEl('clipPath',{id:'clip-'+p.id},rootDefs);
  svgEl('rect',{x:p.left,y:p.top,width:p.right-p.left,height:p.bottom-p.top},clip);

  const grad = svgEl('linearGradient',{id:'grad-'+p.id,x1:0,y1:1,x2:0,y2:0},rootDefs);
  for(let s=0;s<=40;s++){
    svgEl('stop',{offset:s/40,'stop-color':barColor(p.scale,s/40)},grad);
  }

  const plot = svgEl('g',{'clip-path':'url(#clip-'+p.id+')'},host);
  
  

  const heat = svgEl('g',{filter:'url(#smooth)'},plot);
  
  
  gridDepths.forEach(function(d,r){
    const y0 = r===0 ? depthY(d)-90 : depthY((gridDepths[r-1]+d)/2);
    const y1 = r===gridDepths.length-1 ? depthY(d)+90 : depthY((gridDepths[r+1]+d)/2);
    gridLats.forEach(function(lat,c){
      const x0 = c===0 ? gridX(lat)-110 : gridX((gridLats[c-1]+lat)/2);
      const x1 = c===gridLats.length-1 ? gridX(lat)+110 : gridX((gridLats[c+1]+lat)/2);
      const f = (p.values[r][c]-p.vmin)/(p.vmax-p.vmin);
      const cell = svgEl('rect',{x:x0,y:y0,width:x1-x0+.6,height:y1-y0+.6,fill:barColor(p.scale,f)},heat);
      
      
    });
  });

  p.gaps.forEach(function(poly){
    const pts = poly.map(function(q){return gridX(q[0]).toFixed(1)+','+depthY(q[1]).toFixed(1);}).join(' ');
    const gap = svgEl('polygon',{points:pts,fill:'#fff'},plot);
    
    
  });

  latLabelValues.forEach(function(lat){
    const v = svgEl('line',{x1:gridX(lat),x2:gridX(lat),y1:p.top,y2:p.bottom,stroke:'#222','stroke-width':1,'stroke-opacity':.8},plot);
    
    
  });

  p.divide.forEach(function(lat){
    const dash = svgEl('line',{x1:gridX(lat),x2:gridX(lat),y1:p.top+2,y2:depthY(228),stroke:'#fff','stroke-width':7,'stroke-dasharray':'27.5 14'},plot);
    
    
  });

  const dots = svgEl('g',{fill:'#3a3a3a',opacity:p.dotOp},plot);
  
  
  stationLats.forEach(function(lat,i){
    stationDepths[i].forEach(function(d){
      const dot = svgEl('ellipse',{cx:markX(lat),cy:depthY(d),rx:p.dotR,ry:p.dotR*1.2},dots);
      
      
    });
  });

  highlightLats.forEach(function(lat,i){
    const hi = svgEl('circle',{cx:markX(lat),cy:depthY(highlightDepths[i]),r:6.9,fill:'#a9a9a9',stroke:'#000','stroke-width':2},plot);
    
    
  });

  [100,200].forEach(function(d){
    const h = svgEl('line',{x1:p.left-12,x2:p.right,y1:depthY(d),y2:depthY(d),stroke:'#1a1a1a','stroke-width':1.6,'stroke-opacity':.8},host);
    
    
  });

  const frame = svgEl('rect',{x:p.left,y:p.top,width:p.right-p.left,height:p.bottom-p.top,fill:'none',stroke:'#000','stroke-width':2.4},host);
  
  

  depthTicks.forEach(function(d){
    const major = d%100===0;
    const t = svgEl('line',{x1:p.left-(major?12:9),x2:p.left,y1:depthY(d),y2:depthY(d),stroke:major?'#000':'#777','stroke-width':major?2:1},host);
    
    
  });
  latTicks.forEach(function(lat){
    const major = lat%10===0;
    const t = svgEl('line',{x1:gridX(lat),x2:gridX(lat),y1:p.bottom,y2:p.bottom+(major?12:6),stroke:major?'#333':'#888','stroke-width':1},host);
    
    
  });

  if(p.axisY){
    depthLabelValues.forEach(function(d,i){
      const lab = svgEl('text',{x:p.axisY[0],y:depthY(d)+p.axisY[1][i]+13.5,'text-anchor':'end','font-size':40},host);
      lab.textContent = depthTickLabels[i];
      
      
    });
  }
  if(p.axisX){
    latLabelValues.forEach(function(lat){
      const lab = svgEl('text',{x:gridX(lat)-6,y:2051,'text-anchor':'middle','font-size':40},host);
      lab.textContent = String(lat);
      
      
      const deg = svgEl('text',{x:gridX(lat)+14,y:2036,'text-anchor':'start','font-size':25},host);
      deg.textContent = 'o';
      
      
    });
  }

  const mid = (p.barL+p.barR)/2;
  const capTop = svgEl('polygon',{points:p.barL+','+p.barTop+' '+mid+','+(p.barTop-9.5)+' '+p.barR+','+p.barTop,fill:'#fde725',stroke:'#999','stroke-width':1.2},host);
  
  
  const capBot = svgEl('polygon',{points:p.barL+','+p.barBot+' '+mid+','+(p.barBot+9.5)+' '+p.barR+','+p.barBot,fill:'#440154'},host);
  
  
  const bar = svgEl('rect',{x:p.barL,y:p.barTop,width:p.barR-p.barL,height:p.barBot-p.barTop,fill:'url(#grad-'+p.id+')',stroke:'#999','stroke-width':1},host);
  
  
  p.ticks.forEach(function(v){
    const y = barY(v);
    const tl = svgEl('line',{x1:p.barL,x2:p.barL+12,y1:y,y2:y,stroke:'#000','stroke-width':2},host);
    
    
    const tr = svgEl('line',{x1:p.barR-12,x2:p.barR,y1:y,y2:y,stroke:'#000','stroke-width':2},host);
    
    
  });
  p.barValues.forEach(function(v,i){
    const yc = Math.max(p.barTop+p.insetT,Math.min(p.barBot-p.insetB,barY(v)));
    const lab = svgEl('text',{x:p.barLabelX,y:yc+13.5,'font-size':40},host);
    lab.textContent = p.barLabels[i];
    
    
  });
});
</script>
</body>
</html>
